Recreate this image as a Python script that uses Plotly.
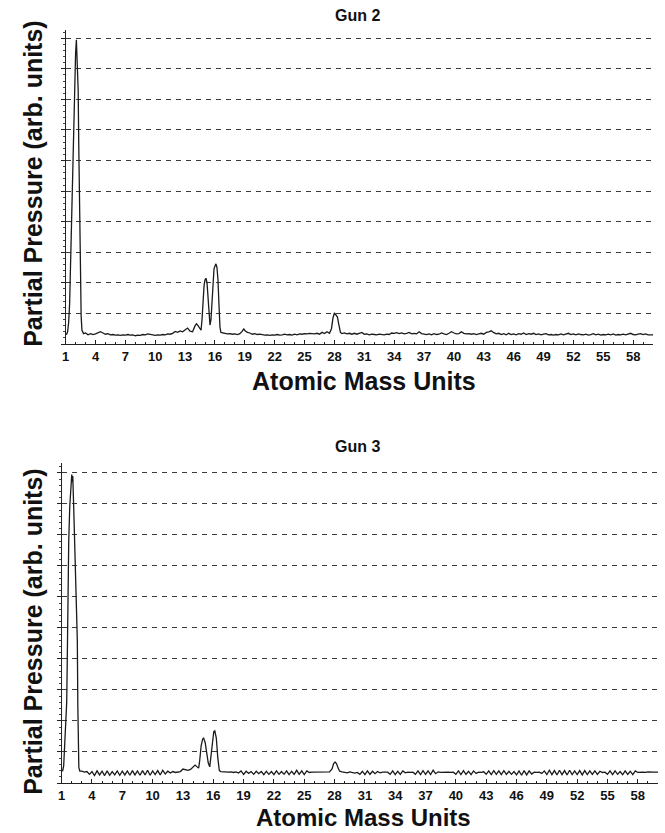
import plotly.graph_objects as go

# ---------------- data ----------------
gun2_mass = [
    1.0, 1.1, 1.2, 1.3, 1.4, 1.5, 1.6, 1.7, 1.8, 1.9,
    2.0, 2.08, 2.12, 2.16, 2.2, 2.26, 2.32, 2.4, 2.48, 2.56,
    2.64, 2.72, 2.8,
    3.0, 3.25, 3.5, 3.75, 4.0, 4.25, 4.5, 4.75, 5.0, 5.25,
    5.5, 5.75, 6.0, 6.25, 6.5, 6.75, 7.0, 7.25, 7.5, 7.75,
    8.0, 8.25, 8.5, 8.75, 9.0, 9.25, 9.5, 9.75, 10.0, 10.25,
    10.5, 10.75, 11.0, 11.25, 11.5, 11.75, 12.0, 12.25, 12.5, 12.75,
    13.0, 13.25, 13.5, 13.75, 14.0, 14.15, 14.3, 14.45, 14.6, 14.7,
    14.8, 14.9, 15.0, 15.1, 15.2, 15.3, 15.4, 15.5, 15.6, 15.7,
    15.8, 15.9, 16.0, 16.1, 16.2, 16.3, 16.4, 16.5, 16.6, 16.75,
    17.0, 17.25, 17.5, 17.75, 18.0, 18.25, 18.5, 18.75, 18.9, 19.0,
    19.25, 19.5, 19.75, 20.0, 20.25, 20.5, 20.75, 21.0, 21.25, 21.5,
    21.75, 22.0, 22.25, 22.5, 22.75, 23.0, 23.25, 23.5, 23.75, 24.0,
    24.25, 24.5, 24.75, 25.0, 25.25, 25.5, 25.75, 26.0, 26.25, 26.5,
    26.75, 27.0, 27.25, 27.5, 27.7, 27.85, 28.0, 28.1, 28.2, 28.3,
    28.4, 28.5, 28.6, 28.75, 29.0, 29.25, 29.5, 29.75, 30.0, 30.25,
    30.5, 30.75, 31.0, 31.25, 31.5, 31.75, 32.0, 32.25, 32.5, 32.75,
    33.0, 33.25, 33.5, 33.75, 34.0, 34.25, 34.5, 34.75, 35.0, 35.25,
    35.5, 35.75, 36.0, 36.25, 36.5, 36.75, 37.0, 37.25, 37.5, 37.75,
    38.0, 38.25, 38.5, 38.75, 39.0, 39.25, 39.5, 39.75, 40.0, 40.25,
    40.5, 40.75, 41.0, 41.25, 41.5, 41.75, 42.0, 42.25, 42.5, 42.75,
    43.0, 43.25, 43.5, 43.75, 44.0, 44.25, 44.5, 44.75, 45.0, 45.25,
    45.5, 45.75, 46.0, 46.25, 46.5, 46.75, 47.0, 47.25, 47.5, 47.75,
    48.0, 48.25, 48.5, 48.75, 49.0, 49.25, 49.5, 49.75, 50.0, 50.25,
    50.5, 50.75, 51.0, 51.25, 51.5, 51.75, 52.0, 52.25, 52.5, 52.75,
    53.0, 53.25, 53.5, 53.75, 54.0, 54.25, 54.5, 54.75, 55.0, 55.25,
    55.5, 55.75, 56.0, 56.25, 56.5, 56.75, 57.0, 57.25, 57.5, 57.75,
    58.0, 58.25, 58.5, 58.75, 59.0, 59.25, 59.5, 59.75, 60.0,
]
gun2_pressure = [
    0.33, 0.32, 0.40, 0.70, 1.30, 2.60, 4.20, 5.80, 7.40, 8.60,
    9.50, 9.95, 9.60, 8.90, 8.60, 8.30, 6.50, 4.20, 2.00, 0.90,
    0.45, 0.36, 0.34,
    0.36, 0.30, 0.34, 0.31, 0.33, 0.36, 0.40, 0.36, 0.32, 0.34,
    0.30, 0.31, 0.29, 0.30, 0.28, 0.30, 0.29, 0.31, 0.29, 0.30,
    0.27, 0.29, 0.28, 0.31, 0.30, 0.33, 0.31, 0.30, 0.28, 0.30,
    0.29, 0.31, 0.30, 0.33, 0.32, 0.35, 0.41, 0.38, 0.43, 0.40,
    0.45, 0.52, 0.42, 0.40, 0.60, 0.66, 0.60, 0.50, 0.45, 0.80,
    1.40, 1.90, 2.10, 2.15, 2.00, 1.60, 1.00, 0.62, 0.80, 1.50,
    2.10, 2.45, 2.55, 2.62, 2.50, 2.10, 1.30, 0.55, 0.38, 0.36,
    0.35, 0.33, 0.34, 0.32, 0.33, 0.31, 0.34, 0.42, 0.50, 0.44,
    0.38, 0.36, 0.32, 0.34, 0.31, 0.32, 0.30, 0.29, 0.30, 0.28,
    0.30, 0.29, 0.31, 0.29, 0.30, 0.32, 0.30, 0.31, 0.29, 0.32,
    0.30, 0.33, 0.32, 0.34, 0.33, 0.35, 0.34, 0.33, 0.35, 0.32,
    0.38, 0.34, 0.40, 0.35, 0.50, 0.85, 1.02, 0.98, 0.92, 0.88,
    0.70, 0.45, 0.38, 0.34, 0.36, 0.33, 0.35, 0.32, 0.35, 0.32,
    0.34, 0.38, 0.32, 0.33, 0.30, 0.32, 0.31, 0.30, 0.32, 0.31,
    0.30, 0.32, 0.31, 0.36, 0.35, 0.37, 0.34, 0.36, 0.33, 0.35,
    0.38, 0.33, 0.35, 0.33, 0.40, 0.34, 0.33, 0.31, 0.33, 0.30,
    0.34, 0.31, 0.32, 0.36, 0.33, 0.31, 0.35, 0.40, 0.36, 0.33,
    0.34, 0.40, 0.35, 0.33, 0.34, 0.32, 0.34, 0.31, 0.33, 0.35,
    0.32, 0.38, 0.40, 0.43, 0.37, 0.33, 0.35, 0.31, 0.34, 0.30,
    0.35, 0.31, 0.33, 0.30, 0.34, 0.32, 0.36, 0.31, 0.34, 0.32,
    0.35, 0.31, 0.33, 0.30, 0.32, 0.34, 0.30, 0.31, 0.29, 0.31,
    0.30, 0.33, 0.30, 0.32, 0.35, 0.31, 0.33, 0.30, 0.33, 0.31,
    0.30, 0.32, 0.29, 0.31, 0.34, 0.30, 0.32, 0.29, 0.31, 0.30,
    0.32, 0.30, 0.33, 0.29, 0.31, 0.30, 0.32, 0.30, 0.33, 0.35,
    0.31, 0.30, 0.32, 0.34, 0.31, 0.33, 0.30, 0.29, 0.30,
]

gun3_mass = [
    1.0, 1.1, 1.2, 1.3, 1.4, 1.45, 1.5, 1.55, 1.6, 1.7,
    1.8, 1.85, 1.9, 1.95, 2.0, 2.05, 2.1, 2.2, 2.3, 2.4,
    2.5, 2.55, 2.6, 2.65, 2.7, 2.8, 2.9,
    3.0, 3.25, 3.5, 3.75, 4.0, 4.25, 4.5, 4.75, 5.0, 5.25,
    5.5, 5.75, 6.0, 6.25, 6.5, 6.75, 7.0, 7.25, 7.5, 7.75,
    8.0, 8.25, 8.5, 8.75, 9.0, 9.25, 9.5, 9.75, 10.0, 10.25,
    10.5, 10.75, 11.0, 11.25, 11.5, 11.75, 12.0, 12.25, 12.5, 12.75,
    13.0, 13.25, 13.5, 13.75, 14.0, 14.2, 14.4, 14.55, 14.65, 14.8,
    14.95, 15.05, 15.2, 15.35, 15.5, 15.65, 15.8, 15.95, 16.05, 16.15,
    16.3, 16.45, 16.6, 16.75, 17.0, 17.25, 17.5, 17.75, 18.0, 18.25,
    18.5, 18.75, 19.0, 19.25, 19.5, 19.75, 20.0, 20.25, 20.5, 20.75,
    21.0, 21.25, 21.5, 21.75, 22.0, 22.25, 22.5, 22.75, 23.0, 23.25,
    23.5, 23.75, 24.0, 24.25, 24.5, 24.75, 25.0, 25.25, 25.5, 25.75,
    26.0, 26.5, 27.0, 27.5, 27.75, 27.9, 28.05, 28.2, 28.35, 28.5,
    28.75, 29.0, 29.25, 29.5, 29.75, 30.0, 30.25, 30.5, 30.75, 31.0,
    31.25, 31.5, 31.75, 32.0, 32.25, 32.5, 32.75, 33.0, 33.25, 33.5,
    33.75, 34.0, 34.25, 34.5, 34.75, 35.0, 35.25, 35.5, 35.75, 36.0,
    36.25, 36.5, 36.75, 37.0, 37.25, 37.5, 37.75, 38.0, 38.25, 38.5,
    38.75, 39.0, 39.25, 39.5, 39.75, 40.0, 40.25, 40.5, 40.75, 41.0,
    41.25, 41.5, 41.75, 42.0, 42.25, 42.5, 42.75, 43.0, 43.25, 43.5,
    43.75, 44.0, 44.25, 44.5, 44.75, 45.0, 45.25, 45.5, 45.75, 46.0,
    46.25, 46.5, 46.75, 47.0, 47.25, 47.5, 47.75, 48.0, 48.25, 48.5,
    48.75, 49.0, 49.25, 49.5, 49.75, 50.0, 50.25, 50.5, 50.75, 51.0,
    51.25, 51.5, 51.75, 52.0, 52.25, 52.5, 52.75, 53.0, 53.25, 53.5,
    53.75, 54.0, 54.25, 54.5, 54.75, 55.0, 55.25, 55.5, 55.75, 56.0,
    56.25, 56.5, 56.75, 57.0, 57.25, 57.5, 57.75, 58.0, 58.25, 58.5,
    58.75, 59.0, 59.5, 60.0,
]
gun3_pressure = [
    0.42, 0.40, 0.55, 1.20, 2.30, 2.50, 2.60, 3.80, 5.50, 7.80,
    8.90, 9.20, 9.50, 9.80, 9.95, 9.70, 9.90, 8.80, 7.50, 6.20,
    5.00, 4.60, 2.50, 1.00, 0.50, 0.38, 0.38,
    0.38, 0.35, 0.37, 0.28, 0.37, 0.24, 0.39, 0.26, 0.38, 0.24,
    0.39, 0.25, 0.37, 0.26, 0.39, 0.25, 0.38, 0.26, 0.39, 0.25,
    0.40, 0.26, 0.39, 0.25, 0.40, 0.26, 0.41, 0.25, 0.39, 0.27,
    0.40, 0.26, 0.41, 0.29, 0.38, 0.32, 0.37, 0.34, 0.36, 0.37,
    0.45, 0.42, 0.41, 0.44, 0.52, 0.58, 0.52, 0.48, 0.70, 1.20,
    1.42, 1.45, 1.30, 1.00, 0.65, 0.52, 0.95, 1.50, 1.66, 1.68,
    1.45, 0.80, 0.40, 0.37, 0.36, 0.36, 0.35, 0.36, 0.34, 0.36,
    0.32, 0.39, 0.28, 0.38, 0.31, 0.37, 0.28, 0.38, 0.30, 0.37,
    0.27, 0.38, 0.28, 0.37, 0.27, 0.39, 0.28, 0.37, 0.28, 0.39,
    0.27, 0.38, 0.28, 0.41, 0.28, 0.39, 0.27, 0.39, 0.34, 0.35,
    0.35, 0.35, 0.35, 0.36, 0.45, 0.62, 0.68, 0.62, 0.48, 0.38,
    0.36, 0.34, 0.33, 0.36, 0.33, 0.32, 0.34, 0.28, 0.38, 0.27,
    0.39, 0.28, 0.38, 0.30, 0.37, 0.33, 0.35, 0.34, 0.35, 0.28,
    0.39, 0.27, 0.38, 0.28, 0.39, 0.33, 0.35, 0.34, 0.35, 0.28,
    0.39, 0.27, 0.40, 0.28, 0.39, 0.27, 0.41, 0.30, 0.36, 0.34,
    0.35, 0.35, 0.35, 0.34, 0.35, 0.28, 0.39, 0.27, 0.40, 0.28,
    0.38, 0.27, 0.39, 0.31, 0.35, 0.34, 0.36, 0.28, 0.39, 0.27,
    0.40, 0.28, 0.39, 0.27, 0.40, 0.28, 0.38, 0.28, 0.37, 0.26,
    0.39, 0.25, 0.40, 0.26, 0.39, 0.29, 0.35, 0.34, 0.35, 0.31,
    0.39, 0.27, 0.41, 0.27, 0.40, 0.26, 0.41, 0.27, 0.40, 0.26,
    0.41, 0.27, 0.39, 0.27, 0.40, 0.26, 0.40, 0.27, 0.39, 0.28,
    0.39, 0.28, 0.38, 0.34, 0.35, 0.28, 0.39, 0.27, 0.39, 0.28,
    0.37, 0.27, 0.39, 0.28, 0.38, 0.27, 0.39, 0.34, 0.35, 0.35,
    0.34, 0.36, 0.35, 0.35,
]

tick_labels = [1, 4, 7, 10, 13, 16, 19, 22, 25, 28, 31, 34, 37, 40, 43, 46, 49, 52, 55, 58]
panel_titles = ["Gun 2", "Gun 3"]
x_title = "Atomic Mass Units"
y_title = "Partial Pressure (arb. units)"

# ---------------- layout helpers ----------------
W, H = 665, 833
FONT = "Liberation Sans, Arial, Helvetica, sans-serif"


def px_x(p):
    return p / W


def px_y(p):
    return 1 - p / H


fig = go.Figure()
fig.add_trace(go.Scatter(x=gun2_mass, y=gun2_pressure, mode="lines",
                         line=dict(color="#1a1a1a", width=1.3),
                         xaxis="x", yaxis="y", showlegend=False, hoverinfo="skip"))
fig.add_trace(go.Scatter(x=gun3_mass, y=gun3_pressure, mode="lines",
                         line=dict(color="#1a1a1a", width=1.3),
                         xaxis="x2", yaxis="y2", showlegend=False, hoverinfo="skip"))


def xaxis_cfg(x0, x1, anchor):
    return dict(
        domain=[px_x(x0), px_x(x1)], range=[1, 60], anchor=anchor,
        tickmode="array", tickvals=tick_labels, ticktext=[str(v) for v in tick_labels],
        ticks="inside", ticklen=4, tickwidth=1, tickcolor="#222",
        minor=dict(dtick=1, tick0=1, ticks="inside", ticklen=2, tickcolor="#222", showgrid=False),
        showline=True, linecolor="#222", linewidth=1,
        showgrid=False, zeroline=False,
        tickfont=dict(family=FONT, size=13, color="#111", weight="bold"),
    )


def yaxis_cfg(y0, y1, top, anchor):
    return dict(
        domain=[px_y(y1), px_y(y0)], range=[0, top], anchor=anchor,
        tick0=0, dtick=1, showticklabels=False,
        ticks="outside", ticklen=4, tickwidth=1, tickcolor="#222",
        minor=dict(dtick=0.2, ticks="outside", ticklen=2, tickcolor="#444", showgrid=False),
        showline=True, linecolor="#222", linewidth=1,
        showgrid=True, gridcolor="#3a3a3a", gridwidth=1, griddash="5px,5px",
        zeroline=False,
    )


fig.update_layout(
    width=W, height=H,
    margin=dict(l=0, r=0, t=0, b=0),
    paper_bgcolor="white", plot_bgcolor="white",
    xaxis=xaxis_cfg(62, 653, "y"),
    yaxis=yaxis_cfg(30, 344, 10.27, "x"),
    xaxis2=xaxis_cfg(58, 658, "y2"),
    yaxis2=yaxis_cfg(463, 783, 10.32, "x2"),
)

annotations = [
    # panel titles
    dict(text=panel_titles[0], x=px_x(356), y=px_y(16), font=dict(size=16), yanchor="middle"),
    dict(text=panel_titles[1], x=px_x(356), y=px_y(447), font=dict(size=16), yanchor="middle"),
    # x titles
    dict(text=x_title, x=px_x(362), y=px_y(381), font=dict(size=25), yanchor="middle"),
    dict(text=x_title, x=px_x(362), y=0, font=dict(size=24), yanchor="bottom"),
    # y titles
    dict(text=y_title, x=px_x(29), y=px_y(183), font=dict(size=25), textangle=-90, yanchor="middle"),
    dict(text=y_title, x=px_x(29), y=px_y(631), font=dict(size=25), textangle=-90, yanchor="middle"),
]
for a in annotations:
    a.update(xref="paper", yref="paper", showarrow=False, xanchor="center")
    a["font"].update(family=FONT, color="#111", weight="bold")
fig.update_layout(annotations=annotations)

fig.write_html("out.html")
